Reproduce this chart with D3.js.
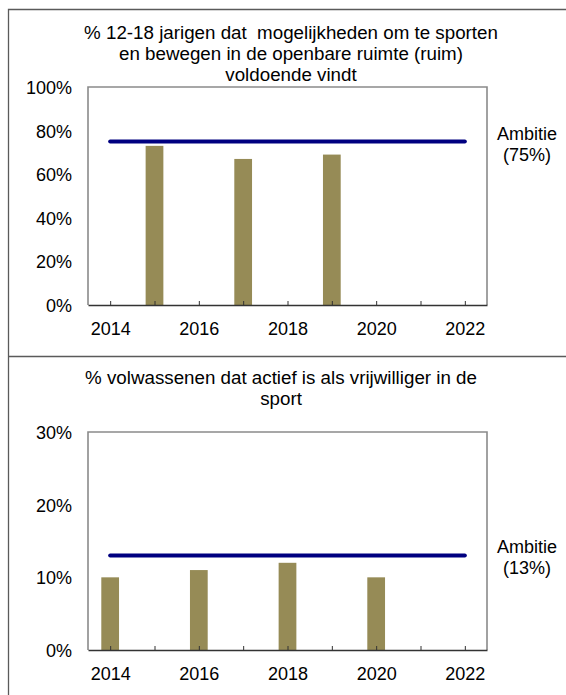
<!DOCTYPE html>
<html>
<head>
<meta charset="utf-8">
<script src="https://cdn.jsdelivr.net/npm/d3@7"></script>
<style>
  body { margin: 0; background: #fff; }
  text { font-family: "Liberation Sans", Arial, sans-serif; font-size: 18px; fill: #000; }
  .title { font-size: 18.75px; white-space: pre; }
</style>
</head>
<body>
<svg width="566" height="695"></svg>
<script>
// data
var xYears = [2014, 2015, 2016, 2017, 2018, 2019, 2020, 2021, 2022];
var xLabels = [2014, 2016, 2018, 2020, 2022];

var title1 = ["% 12-18 jarigen dat  mogelijkheden om te sporten",
              "en bewegen in de openbare ruimte (ruim)",
              "voldoende vindt"];
var years1 = [2015, 2017, 2019];
var values1 = [73, 67, 69];
var ambitie1 = 75;
var yTicks1 = [0, 20, 40, 60, 80, 100];

var title2 = ["% volwassenen dat actief is als vrijwilliger in de",
              "sport"];
var years2 = [2014, 2016, 2018, 2020];
var values2 = [10, 11, 12, 10];
var ambitie2 = 13;
var yTicks2 = [0, 10, 20, 30];

var svg = d3.select("svg");

// outer frame + separator
svg.append("path")
    .attr("d", "M566,9.5 H8.5 V695 M8.5,356.5 H566")
    .attr("fill", "none")
    .attr("stroke", "#5a5a5a")
    .attr("stroke-width", 1.3);

function drawPanel(cfg) {
    var left = 88, right = 487, top = cfg.top, bottom = cfg.top + 218;

    var x = d3.scaleLinear().domain([2013.5, 2022.5]).range([left, right]);
    var y = d3.scaleLinear().domain([0, d3.max(cfg.yTicks)]).range([bottom, top]);
    var barW = (x(1) - x(0)) * 0.4;

    var g = svg.append("g");

    // title
    g.append("text")
        .attr("class", "title")
        .attr("text-anchor", "middle")
        .attr("xml:space", "preserve")
        .selectAll("tspan")
        .data(cfg.title)
        .enter().append("tspan")
        .attr("x", cfg.titleX)
        .attr("y", function (d, i) { return cfg.titleY + i * 21; })
        .text(function (d) { return d; });

    // bars
    g.selectAll("rect.bar")
        .data(cfg.years)
        .enter().append("rect")
        .attr("class", "bar")
        .attr("x", function (d) { return x(d) - barW / 2; })
        .attr("width", barW)
        .attr("y", function (d, i) { return y(cfg.values[i]); })
        .attr("height", function (d, i) { return bottom - y(cfg.values[i]); })
        .attr("fill", "#968b56");

    // plot border (left, top, right)
    g.append("path")
        .attr("d", "M" + left + "," + bottom + " V" + top + " H" + right + " V" + bottom)
        .attr("fill", "none")
        .attr("stroke", "#8a8a8a")
        .attr("stroke-width", 1.6);

    // x axis
    var xAxis = d3.axisBottom(x)
        .tickValues(xYears)
        .tickSizeInner(-4)
        .tickSizeOuter(0)
        .tickFormat(function (d) { return xLabels.indexOf(d) >= 0 ? d : ""; });
    var ax = g.append("g")
        .attr("transform", "translate(0," + bottom + ")")
        .call(xAxis);
    ax.select(".domain").attr("stroke", "#333").attr("stroke-width", 1.6);
    ax.selectAll(".tick line").attr("stroke", "#333");
    ax.selectAll(".tick text")
        .attr("y", 29.5)
        .attr("dy", 0)
        .style("font-size", "18px")
        .style("font-family", "'Liberation Sans', Arial, sans-serif");

    // y labels
    var yAxis = d3.axisLeft(y)
        .tickValues(cfg.yTicks)
        .tickSize(0)
        .tickPadding(16)
        .tickFormat(function (d) { return d + "%"; });
    var ay = g.append("g")
        .attr("transform", "translate(" + left + ",0)")
        .call(yAxis);
    ay.select(".domain").remove();
    ay.selectAll(".tick text")
        .attr("dy", "0.36em")
        .style("font-size", "18px")
        .style("font-family", "'Liberation Sans', Arial, sans-serif");

    // ambitie line
    g.append("line")
        .attr("x1", x(2014))
        .attr("x2", x(2022))
        .attr("y1", y(cfg.ambitie))
        .attr("y2", y(cfg.ambitie))
        .attr("stroke", "#000080")
        .attr("stroke-width", 4)
        .attr("stroke-linecap", "round");

    g.append("text")
        .attr("text-anchor", "middle")
        .selectAll("tspan")
        .data(["Ambitie", "(" + cfg.ambitie + "%)"])
        .enter().append("tspan")
        .attr("x", 527)
        .attr("y", function (d, i) { return cfg.ambY + i * 21; })
        .text(function (d) { return d; });
}

drawPanel({ top: 87, title: title1, titleX: 291, titleY: 38.5,
            years: years1, values: values1, ambitie: ambitie1, yTicks: yTicks1, ambY: 139.5 });
drawPanel({ top: 432, title: title2, titleX: 281, titleY: 383.5,
            years: years2, values: values2, ambitie: ambitie2, yTicks: yTicks2, ambY: 552.5 });
</script>
</body>
</html>
